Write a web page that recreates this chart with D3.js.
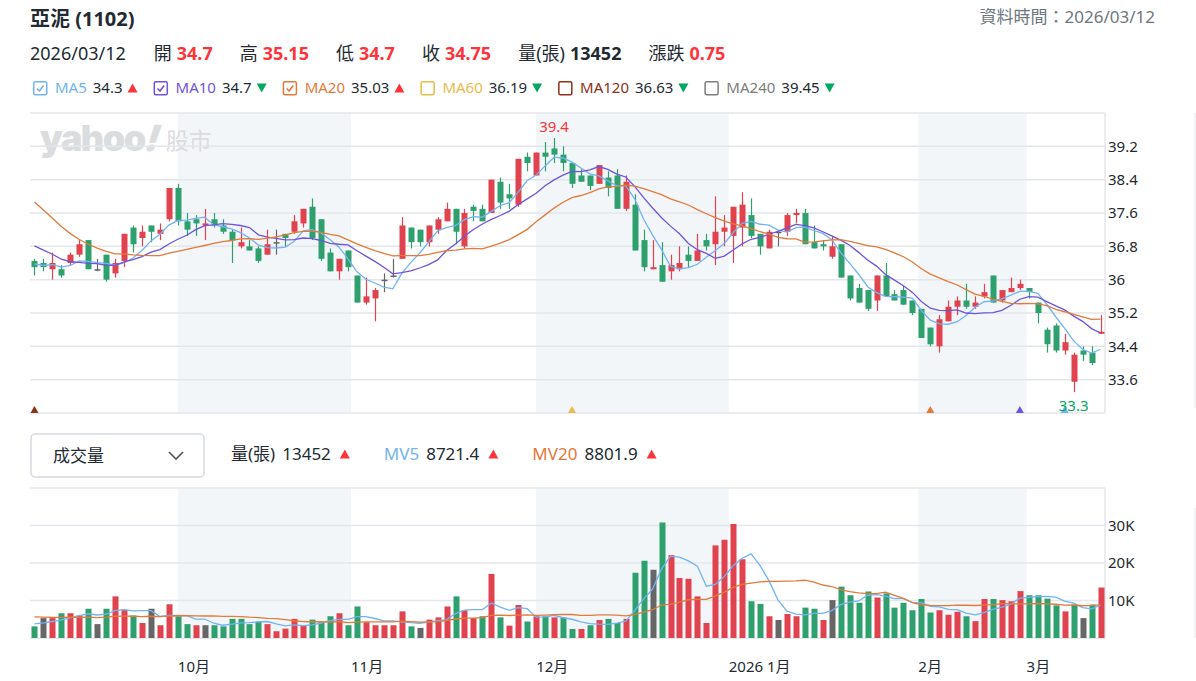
<!DOCTYPE html>
<html>
<head>
<meta charset="utf-8">
<script src="https://cdn.jsdelivr.net/npm/d3@7"></script>
<style>
  body { margin: 0; background: #fff; font-family: "Noto Sans", "Noto Sans CJK TC", sans-serif; }
  svg text { font-family: "Noto Sans", "Noto Sans CJK TC", sans-serif; }
</style>
</head>
<body>
<svg id="chart" width="1196" height="681"></svg>
<script>
// trading days shown (Taiwan market, 2025/09/08 - 2026/03/12)
var dates = [
  '2025-09-08','2025-09-09','2025-09-10','2025-09-11','2025-09-12','2025-09-15','2025-09-16','2025-09-17','2025-09-18','2025-09-19',
  '2025-09-22','2025-09-23','2025-09-24','2025-09-25','2025-09-26','2025-09-30','2025-10-01','2025-10-02','2025-10-03','2025-10-07',
  '2025-10-08','2025-10-09','2025-10-13','2025-10-14','2025-10-15','2025-10-16','2025-10-17','2025-10-20','2025-10-21','2025-10-22',
  '2025-10-23','2025-10-27','2025-10-28','2025-10-29','2025-10-30','2025-10-31','2025-11-03','2025-11-04','2025-11-05','2025-11-06',
  '2025-11-07','2025-11-10','2025-11-11','2025-11-12','2025-11-13','2025-11-14','2025-11-17','2025-11-18','2025-11-19','2025-11-20',
  '2025-11-21','2025-11-24','2025-11-25','2025-11-26','2025-11-27','2025-11-28','2025-12-01','2025-12-02','2025-12-03','2025-12-04',
  '2025-12-05','2025-12-08','2025-12-09','2025-12-10','2025-12-11','2025-12-12','2025-12-15','2025-12-16','2025-12-17','2025-12-18',
  '2025-12-19','2025-12-22','2025-12-23','2025-12-24','2025-12-26','2025-12-29','2025-12-30','2025-12-31','2026-01-02','2026-01-05',
  '2026-01-06','2026-01-07','2026-01-08','2026-01-09','2026-01-12','2026-01-13','2026-01-14','2026-01-15','2026-01-16','2026-01-19',
  '2026-01-20','2026-01-21','2026-01-22','2026-01-23','2026-01-26','2026-01-27','2026-01-28','2026-01-29','2026-01-30','2026-02-02',
  '2026-02-03','2026-02-04','2026-02-05','2026-02-06','2026-02-09','2026-02-10','2026-02-11','2026-02-23','2026-02-24','2026-02-25',
  '2026-02-26','2026-03-02','2026-03-03','2026-03-04','2026-03-05','2026-03-06','2026-03-09','2026-03-10','2026-03-11','2026-03-12'
];

var opens = [
  36.45,36.4,36.25,36.25,36.4,36.6,36.95,36.25,36.6,36.15, 36.45,37.25,37.0,37.3,37.1,37.45,38.2,37.4,37.45,37.3,
  37.45,37.3,37.15,36.8,36.8,36.75,36.6,36.9,37.1,37.15, 37.35,37.75,37.45,36.65,36.2,36.7,36.1,35.45,35.55,36.0,
  36.1,36.5,37.25,37.2,36.9,37.2,37.4,37.7,36.8,37.75, 37.7,37.6,38.35,38.05,37.8,38.95,38.5,39.05,39.15,39.0,
  38.8,38.5,38.5,38.3,38.45,38.5,37.7,37.8,36.95,36.25, 36.35,36.2,36.25,36.6,36.45,36.95,36.85,37.15,37.05,37.25,
  37.55,37.1,36.75,37.15,37.15,37.55,37.6,36.9,36.85,36.55, 36.85,36.1,35.8,35.75,35.5,36.1,35.65,35.75,35.5,35.3,
  34.85,34.4,35.0,35.35,35.5,35.35,35.6,36.1,35.5,35.7, 35.8,35.8,35.45,34.8,34.9,34.3,33.55,34.3,34.25,34.7
];
var highs = [
  36.5,36.5,36.65,36.35,36.65,36.95,36.95,36.5,36.6,36.5, 37.1,37.3,37.3,37.3,37.35,38.2,38.3,37.6,37.55,37.7,
  37.6,37.45,37.2,37.25,36.95,36.8,37.2,37.2,37.1,37.55, 37.7,37.95,37.45,36.75,36.5,36.7,36.1,36.05,35.8,36.15,
  36.5,37.5,37.25,37.2,37.3,37.5,37.85,37.7,37.7,37.8, 37.8,38.4,38.45,38.3,38.9,39.05,39.05,39.3,39.4,39.2,
  38.8,38.65,38.5,38.75,38.6,38.65,38.5,38.05,37.2,36.95, 36.9,36.6,36.8,36.8,37.1,37.1,38.0,37.55,37.75,38.1,
  37.95,37.1,37.2,37.15,37.6,37.7,37.7,37.3,36.95,37.05, 36.85,36.1,35.9,35.75,36.1,36.4,35.75,35.85,35.5,35.3,
  34.85,35.15,35.5,35.6,35.9,35.6,35.9,36.1,35.75,36.05, 36.0,35.8,35.45,34.85,34.95,34.7,34.25,34.4,34.4,35.15
];
var lows = [
  36.1,36.2,36.0,36.05,36.35,36.55,36.25,36.2,35.95,36.05, 36.3,36.65,36.8,36.9,36.95,37.4,37.3,37.05,37.05,36.95,
  37.25,37.1,36.4,36.75,36.7,36.4,36.6,36.6,36.8,37.1, 37.25,36.95,36.45,36.2,36.0,36.2,35.45,35.4,35.0,35.7,
  36.05,36.5,36.75,36.8,36.8,37.1,37.4,36.85,36.75,37.4, 37.4,37.6,37.7,37.7,37.75,38.6,38.5,38.6,38.8,38.6,
  38.2,38.35,38.15,38.3,38.0,37.7,37.65,36.7,36.2,36.25, 35.95,36.0,36.2,36.3,36.45,36.7,36.35,36.8,36.4,36.8,
  37.0,36.6,36.75,36.8,37.05,37.35,36.85,36.75,36.7,36.5, 36.05,35.5,35.45,35.25,35.25,35.6,35.5,35.4,35.15,34.6,
  34.4,34.25,35.0,35.15,35.3,35.3,35.55,35.45,35.45,35.7, 35.75,35.55,34.95,34.25,34.25,34.2,33.3,34.05,33.95,34.7
];
var closes = [
  36.3,36.3,36.4,36.1,36.6,36.85,36.25,36.25,36.0,36.4, 37.1,36.85,37.15,37.15,37.2,38.2,37.4,37.2,37.35,37.35,
  37.3,37.15,36.95,36.9,36.7,36.45,36.85,36.9,37.0,37.4, 37.7,37.0,36.5,36.2,36.5,36.3,35.45,35.6,35.75,36.0,
  36.1,37.3,36.9,36.9,37.3,37.45,37.7,37.15,37.6,37.65, 37.4,38.4,37.85,37.95,38.9,38.8,39.05,38.95,39.0,38.8,
  38.3,38.35,38.25,38.75,38.2,37.7,38.35,36.7,36.3,36.3, 35.95,36.35,36.4,36.45,36.7,36.8,37.15,37.25,37.75,37.8,
  37.05,36.8,37.15,37.15,37.55,37.6,36.85,36.75,36.8,36.8, 36.05,35.55,35.45,35.3,36.1,35.6,35.5,35.4,35.2,34.6,
  34.45,35.05,35.35,35.5,35.35,35.45,35.7,35.45,35.75,35.8, 35.9,35.7,35.2,34.45,34.3,34.5,34.2,34.2,34.0,34.75
];
// volume in 張
var volumes = [
  3100,5300,5300,6600,6600,6000,7800,3700,7800,11100, 7500,6000,4000,7800,3400,9000,5800,3700,3400,3400,
  3400,3100,5100,5100,3700,4400,3700,1800,2500,5100, 3300,4900,4200,5800,6600,3400,8400,4200,3400,3400,
  3400,7100,3100,2700,4900,5500,8400,11100,7400,5300, 5800,17100,5500,3300,8800,4400,5800,5800,5500,5500,
  2400,2400,3400,4800,5100,4000,5100,17400,20600,18200, 30800,22100,16000,15800,11100,4000,24700,26200,30400,21000,
  9800,9100,5800,4800,6400,5800,8100,7800,4800,10100, 13700,11400,9400,12400,10800,11900,8100,9400,7400,10400,
  6800,7400,6200,7000,5800,4500,10400,10400,10100,9800, 12500,11400,11400,10500,8700,7100,8900,5300,8900,13452
];
// sessions before the window (estimated from where the MA lines begin)
var priorCloses = [40.2,40.3,40.1,40.0,39.7,38.5,38.1,37.6,37.6,37.1,37.3,37.4,37.3,37.2,37.0,36.5,36.3,36.4,36.4];
var priorVolumes = [6500,7000,6000,5500,7500,6800,6000,5500,6200,7000,6500,5800,6000,5500,6000,4000,3500,4500,3800];

var priceTicks = [33.6, 34.4, 35.2, 36, 36.8, 37.6, 38.4, 39.2];
var volumeTicks = [10000, 20000, 30000];
var monthTicks = [
  { date: '2025-10-01', label: '10月' },
  { date: '2025-11-01', label: '11月' },
  { date: '2025-12-01', label: '12月' },
  { date: '2026-01-01', label: '2026 1月' },
  { date: '2026-02-01', label: '2月' },
  { date: '2026-03-01', label: '3月' }
];
var shadedMonths = [['2025-10-01', '2025-11-01'], ['2025-12-01', '2026-01-01'], ['2026-02-01', '2026-03-01']];

var stockTitle = '亞泥 (1102)';
var dataTime = '資料時間：2026/03/12';
var quoteDate = '2026/03/12';
var quoteLabels = ['開', '高', '低', '收', '量(張)', '漲跌'];
var quoteValues = ['34.7', '35.15', '34.7', '34.75', '13452', '0.75'];

var maNames = ['MA5', 'MA10', 'MA20', 'MA60', 'MA120', 'MA240'];
var maPeriods = [5, 10, 20, 60, 120, 240];
var maValues = ['34.3', '34.7', '35.03', '36.19', '36.63', '39.45'];
var maUp = [true, false, true, false, false, false];
var maShown = [true, true, true, false, false, false];

var volNames = ['量(張)', 'MV5', 'MV20'];
var volValues = ['13452', '8721.4', '8801.9'];

// ---- styles ----
var RED = '#e0434e', GREEN = '#2ea06e', GREY = '#666666';
var TEXT_RED = '#ff333a', TEXT_GREEN = '#00a862', DARK = '#232a31';
var maColors = ['#72b4f2', '#7053dc', '#e27a3b', '#e9bb4a', '#8c3114', '#7d7d7d'];
var GRID = '#e3e6ea', BAND = '#f3f6f9';

var svg = d3.select('#chart');
var N = closes.length;
var plotLeft = 30, plotRight = 1105;

var x = d3.scaleLinear().domain([-0.5, N - 0.5]).range([plotLeft, plotRight]);
var yPrice = d3.scaleLinear().domain([32.8, 40.0]).range([413, 113]);
var yVol = d3.scaleLinear().domain([0, 40000]).range([638, 488]);

var parse = d3.timeParse('%Y-%m-%d');
var days = dates.map(parse);
// ordinal position of a calendar date between trading days
function datePos(s) {
    var t = parse(s);
    for (var i = 0; i < N - 1; i++) {
        if (t >= days[i] && t < days[i + 1]) return i + (t - days[i]) / (days[i + 1] - days[i]);
    }
    return N - 1;
}

function movingAverage(values, prior, n) {
    var all = prior.concat(values);
    return values.map(function (v, i) {
        var end = prior.length + i;
        return d3.mean(all.slice(end - n + 1, end + 1));
    });
}

// ---------------- header ----------------
svg.append('text').attr('x', 30).attr('y', 26).text(stockTitle)
    .style('font-size', '20px').style('font-weight', 700).attr('fill', DARK);
svg.append('text').attr('x', 1155).attr('y', 23).attr('text-anchor', 'end').text(dataTime)
    .style('font-size', '17px').attr('fill', '#6e7780');

var row = svg.append('g');
var cx = 30;
var t = row.append('text').attr('x', cx).attr('y', 60).text(quoteDate)
    .style('font-size', '18px').attr('fill', DARK);
cx += t.node().getComputedTextLength() + 28;
quoteLabels.forEach(function (lab, i) {
    var a = row.append('text').attr('x', cx).attr('y', 60).text(lab)
        .style('font-size', '18px').attr('fill', DARK);
    cx += a.node().getComputedTextLength() + 5;
    var b = row.append('text').attr('x', cx).attr('y', 60).text(quoteValues[i])
        .style('font-size', '18px').style('font-weight', 700)
        .attr('fill', lab === '量(張)' ? DARK : TEXT_RED);
    cx += b.node().getComputedTextLength() + 27;
});

function triangle(g, x0, yc, up, color) {
    var p = up ? [[x0, yc + 4.5], [x0 + 10, yc + 4.5], [x0 + 5, yc - 4.5]]
               : [[x0, yc - 4.5], [x0 + 10, yc - 4.5], [x0 + 5, yc + 4.5]];
    g.append('path').attr('d', d3.line()(p) + 'Z').attr('fill', color);
}

// MA legend
var leg = svg.append('g');
cx = 33;
maNames.forEach(function (name, i) {
    leg.append('rect').attr('x', cx + 0.75).attr('y', 81.75).attr('width', 13).attr('height', 13).attr('rx', 1.5)
        .attr('fill', '#fff').attr('stroke', maColors[i]).attr('stroke-width', 1.5);
    if (maShown[i]) {
        leg.append('path').attr('d', d3.line()([[cx + 4, 88.5], [cx + 6.5, 91], [cx + 10.5, 85.5]]))
            .attr('fill', 'none').attr('stroke', maColors[i]).attr('stroke-width', 1.6);
    }
    cx += 22;
    var a = leg.append('text').attr('x', cx).attr('y', 93).text(name).style('font-size', '15px').attr('fill', maColors[i]);
    cx += a.node().getComputedTextLength() + 6;
    var b = leg.append('text').attr('x', cx).attr('y', 93).text(maValues[i]).style('font-size', '15px').attr('fill', DARK);
    cx += b.node().getComputedTextLength() + 5;
    triangle(leg, cx, 88, maUp[i], maUp[i] ? TEXT_RED : TEXT_GREEN);
    cx += 26;
});

// ---------------- backgrounds & grid ----------------
var bg = svg.append('g');
shadedMonths.forEach(function (m) {
    var x0 = x(datePos(m[0])), x1 = x(datePos(m[1]));
    bg.append('rect').attr('x', x0).attr('y', 113).attr('width', x1 - x0).attr('height', 300).attr('fill', BAND);
    bg.append('rect').attr('x', x0).attr('y', 488).attr('width', x1 - x0).attr('height', 150).attr('fill', BAND);
});

// watermark
var wm = svg.append('g').attr('fill', '#dadcde');
var wy = wm.append('text').attr('x', 40).attr('y', 151).text('yahoo')
    .style('font-family', 'Inter, sans-serif').style('font-size', '36px').style('font-weight', 900).style('letter-spacing', '-1.5px');
var wx = 40 + wy.node().getComputedTextLength();
var skew = Math.tan(18 * Math.PI / 180);
wm.append('text').attr('y', 151).text('!')
    .style('font-family', 'Inter, sans-serif').style('font-size', '36px').style('font-weight', 900)
    .attr('transform', 'skewX(-18)').attr('x', wx - 2 + 151 * skew);
wm.append('text').attr('x', wx + 21).attr('y', 149).text('股市')
    .style('font-size', '23px');

var grid = svg.append('g').attr('stroke', GRID).attr('stroke-width', 1.5);
priceTicks.concat(yPrice.domain()).forEach(function (v) {
    grid.append('line').attr('x1', plotLeft).attr('x2', plotRight).attr('y1', yPrice(v)).attr('y2', yPrice(v));
});
[0, 10000, 20000, 30000, 40000].forEach(function (v) {
    grid.append('line').attr('x1', plotLeft).attr('x2', plotRight).attr('y1', yVol(v)).attr('y2', yVol(v));
});
grid.append('line').attr('x1', plotRight).attr('x2', plotRight).attr('y1', 113).attr('y2', 413);
grid.append('line').attr('x1', plotRight).attr('x2', plotRight).attr('y1', 488).attr('y2', 638);
grid.append('line').attr('x1', 1195).attr('x2', 1195).attr('y1', 113).attr('y2', 408).attr('stroke-width', 1);
grid.append('line').attr('x1', 1195).attr('x2', 1195).attr('y1', 508).attr('y2', 638).attr('stroke-width', 1);

// axes
var pAxis = svg.append('g').attr('transform', 'translate(' + plotRight + ',0)')
    .call(d3.axisRight(yPrice).tickValues(priceTicks).tickSize(0).tickPadding(3).tickFormat(d3.format('')));
var vAxis = svg.append('g').attr('transform', 'translate(' + plotRight + ',0)')
    .call(d3.axisRight(yVol).tickValues(volumeTicks).tickSize(0).tickPadding(3)
        .tickFormat(function (d) { return d / 1000 + 'K'; }));
[pAxis, vAxis].forEach(function (a) {
    a.select('.domain').remove();
    a.selectAll('text').style('font-size', '15px').attr('fill', DARK)
        .style('font-family', '"Noto Sans", sans-serif');
});

// month labels
var mLab = svg.append('g');
monthTicks.forEach(function (m) {
    mLab.append('text').attr('x', x(datePos(m.date))).attr('y', 672).text(m.label)
        .style('font-size', '15px').attr('fill', DARK);
});

// ---------------- candles ----------------
function candleColor(i) {
    return closes[i] > opens[i] ? RED : (closes[i] < opens[i] ? GREEN : GREY);
}
function changeColor(i) {
    var prev = i === 0 ? priorCloses[priorCloses.length - 1] : closes[i - 1];
    return closes[i] > prev + 1e-9 ? RED : (closes[i] < prev - 1e-9 ? GREEN : GREY);
}
var idx = d3.range(N);
var candles = svg.append('g');
candles.selectAll('line').data(idx).enter().append('line')
    .attr('x1', function (i) { return Math.round(x(i)) + 0.5; })
    .attr('x2', function (i) { return Math.round(x(i)) + 0.5; })
    .attr('y1', function (i) { return yPrice(highs[i]); })
    .attr('y2', function (i) { return yPrice(lows[i]); })
    .attr('stroke', candleColor).attr('stroke-width', 1.2);
candles.selectAll('rect').data(idx).enter().append('rect')
    .attr('x', function (i) { return Math.round(x(i)) - 2.5; })
    .attr('width', 6)
    .attr('y', function (i) { return yPrice(Math.max(opens[i], closes[i])); })
    .attr('height', function (i) { return Math.max(1.5, Math.abs(yPrice(opens[i]) - yPrice(closes[i]))); })
    .attr('fill', candleColor);

// MA lines
var lines = svg.append('g').attr('fill', 'none').attr('stroke-width', 1.3);
[0, 1, 2].forEach(function (k) {
    var ma = movingAverage(closes, priorCloses, maPeriods[k]);
    lines.append('path').attr('stroke', maColors[k])
        .attr('d', d3.line().x(function (d, i) { return x(i); }).y(function (d) { return yPrice(d); })(ma));
});

// high / low labels
var hiIdx = d3.maxIndex(highs), loIdx = d3.minIndex(lows);
svg.append('text').attr('x', x(hiIdx)).attr('y', yPrice(highs[hiIdx]) - 6).attr('text-anchor', 'middle')
    .text(d3.format('.1f')(highs[hiIdx])).style('font-size', '15px').attr('fill', TEXT_RED);

// MA period start markers
var mk = svg.append('g');
maPeriods.forEach(function (p, k) {
    var i = N - p;
    if (i < 0) return;
    var xc = x(i);
    mk.append('path').attr('d', d3.line()([[xc - 4, 413], [xc + 4, 413], [xc, 406]]) + 'Z').attr('fill', maColors[k]);
});
svg.append('text').attr('x', x(loIdx)).attr('y', 411).attr('text-anchor', 'middle')
    .text(d3.format('.1f')(lows[loIdx])).style('font-size', '15px').attr('fill', TEXT_GREEN);

// ---------------- volume ----------------
var vol = svg.append('g');
vol.selectAll('rect').data(idx).enter().append('rect')
    .attr('x', function (i) { return Math.round(x(i)) - 2.5; })
    .attr('width', 6)
    .attr('y', function (i) { return yVol(volumes[i]); })
    .attr('height', function (i) { return yVol(0) - yVol(volumes[i]); })
    .attr('fill', changeColor);
var vLines = svg.append('g').attr('fill', 'none').attr('stroke-width', 1.3);
[[5, maColors[0]], [20, maColors[2]]].forEach(function (c) {
    var mv = movingAverage(volumes, priorVolumes, c[0]);
    vLines.append('path').attr('stroke', c[1])
        .attr('d', d3.line().x(function (d, i) { return x(i); }).y(function (d) { return yVol(d); })(mv));
});

// volume header: dropdown + values
var dd = svg.append('g');
dd.append('rect').attr('x', 31).attr('y', 434).attr('width', 173).attr('height', 43).attr('rx', 4)
    .attr('fill', '#fff').attr('stroke', '#d5d9de').attr('stroke-width', 1.5);
dd.append('text').attr('x', 53).attr('y', 462).text('成交量').style('font-size', '17px').attr('fill', DARK);
dd.append('path').attr('d', 'M169,452 L176,459 L183,452').attr('fill', 'none').attr('stroke', '#555').attr('stroke-width', 1.6);

var vh = svg.append('g');
cx = 231;
var volColors = [DARK, maColors[0], maColors[2]];
volNames.forEach(function (name, i) {
    var a = vh.append('text').attr('x', cx).attr('y', 460).text(name).style('font-size', '17px').attr('fill', volColors[i]);
    cx += a.node().getComputedTextLength() + 7;
    var b = vh.append('text').attr('x', cx).attr('y', 460).text(volValues[i]).style('font-size', '17px').attr('fill', DARK);
    cx += b.node().getComputedTextLength() + 9;
    triangle(vh, cx, 454, true, TEXT_RED);
    cx += 44;
});
</script>
</body>
</html>
